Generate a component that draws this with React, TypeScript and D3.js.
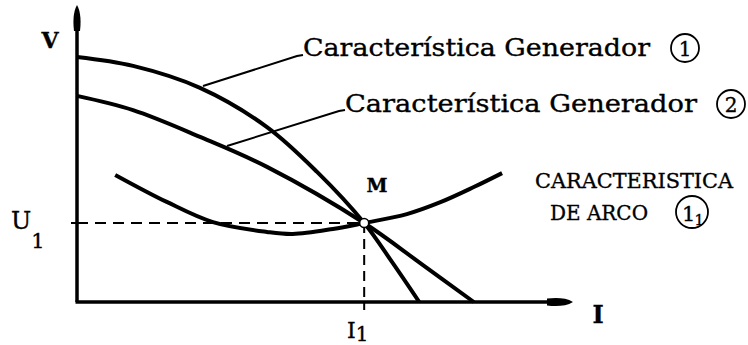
import React from "react";
import * as d3 from "d3";

// Operating point of the arc on the two generator characteristics (relative units)
const generator1: [number, number][] = [
  [0, 82.5], [11.3, 79.5], [24.8, 72.1], [38.3, 58.9], [48.4, 43.8],
  [57.9, 26.6], [63.5, 13.5], [69.0, 0],
];
const generator2: [number, number][] = [
  [0, 69.4], [11.3, 64.6], [24.8, 55.6], [38.3, 45.5], [57.9, 26.6],
  [69.2, 13.1], [80.0, 0],
];
const arcCurve: [number, number][] = [
  [7.7, 42.8], [18.1, 33.7], [27.4, 26.9], [38.3, 23.6], [43.5, 22.9],
  [51.6, 24.6], [57.9, 26.6], [66.5, 29.6], [73.4, 33.7], [80.0, 38.7],
  [85.7, 43.4],
];
const pointM: [number, number] = [57.9, 26.6];

const W = 748;
const H = 345;
const FONT = "'DejaVu Serif', 'Liberation Serif', serif";

export default function App() {
  const x = d3.scaleLinear().domain([0, 100]).range([77, 573]);
  const y = d3.scaleLinear().domain([0, 100]).range([302, 5]);

  const line = d3
    .line<[number, number]>()
    .x((d) => x(d[0]))
    .y((d) => y(d[1]))
    .curve(d3.curveCatmullRom.alpha(0.5));

  const x0 = x(0);
  const y0 = y(0);
  const yTop = y(100);
  const xEnd = x(100);
  const mx = x(pointM[0]);
  const my = y(pointM[1]);

  const yArrow = `M${x0},${yTop} C${x0 + 4},${yTop + 7} ${x0 + 4},${yTop + 17} ${x0 + 3},${yTop + 26} L${x0 - 3},${yTop + 26} C${x0 - 4},${yTop + 17} ${x0 - 4},${yTop + 7} ${x0},${yTop} Z`;
  const xArrow = `M${xEnd},${y0} C${xEnd - 7},${y0 - 4.5} ${xEnd - 17},${y0 - 4.5} ${xEnd - 26},${y0 - 3.5} L${xEnd - 26},${y0 + 3.5} C${xEnd - 17},${y0 + 4.5} ${xEnd - 7},${y0 + 4.5} ${xEnd},${y0} Z`;

  return (
    <svg
      width={W}
      height={H}
      viewBox={`0 0 ${W} ${H}`}
      style={{ position: "absolute", left: 0, top: 0, background: "#fff" }}
    >
      {/* axes */}
      <line x1={x0} y1={y0} x2={x0} y2={yTop + 20} stroke="#000" strokeWidth={3.5} />
      <path d={yArrow} fill="#000" />
      <line x1={x0 - 1.5} y1={y0} x2={xEnd - 20} y2={y0} stroke="#000" strokeWidth={3.5} />
      <path d={xArrow} fill="#000" />

      {/* guides to the operating point */}
      <line x1={x0} y1={my} x2={mx} y2={my} stroke="#000" strokeWidth={2} strokeDasharray="11,7" />
      <line x1={mx} y1={my} x2={mx} y2={y0} stroke="#000" strokeWidth={2} strokeDasharray="10,6" />
      <line x1={x0 - 6} y1={my} x2={x0} y2={my} stroke="#000" strokeWidth={2} />
      <line x1={mx} y1={y0} x2={mx} y2={y0 + 8} stroke="#000" strokeWidth={2} />

      {/* characteristics */}
      <path d={line(generator1) ?? ""} fill="none" stroke="#000" strokeWidth={4} />
      <path d={line(generator2) ?? ""} fill="none" stroke="#000" strokeWidth={4} />
      <path d={line(arcCurve) ?? ""} fill="none" stroke="#000" strokeWidth={4} />
      <circle cx={mx} cy={my} r={4.5} fill="#fff" stroke="#000" strokeWidth={1.5} />

      {/* leader lines */}
      <polyline points="203,86 297,56 303,55" fill="none" stroke="#000" strokeWidth={2} />
      <polyline points="227,146 339,111 345,110" fill="none" stroke="#000" strokeWidth={2} />

      <g fontFamily={FONT} fill="#000" stroke="#000" strokeWidth={0.35}>
        <text x={303} y={56} fontSize={24} textLength={347} lengthAdjust="spacingAndGlyphs">
          Característica Generador
        </text>
        <circle cx={685} cy={48} r={14} fill="none" stroke="#000" strokeWidth={1.8} />
        <text x={685} y={55.5} fontSize={20} textAnchor="middle">1</text>

        <text x={345} y={112} fontSize={24} textLength={352} lengthAdjust="spacingAndGlyphs">
          Característica Generador
        </text>
        <circle cx={731} cy={104} r={14} fill="none" stroke="#000" strokeWidth={1.8} />
        <text x={731} y={111.5} fontSize={20} textAnchor="middle">2</text>

        <text x={535} y={188} fontSize={21} textLength={198} lengthAdjust="spacingAndGlyphs">
          CARACTERISTICA
        </text>
        <text x={550} y={220} fontSize={21} textLength={98} lengthAdjust="spacingAndGlyphs">
          DE ARCO
        </text>
        <circle cx={692} cy={212} r={16} fill="none" stroke="#000" strokeWidth={1.8} />
        <text x={682} y={221} fontSize={21}>
          1<tspan dx={-1} dy={4} fontSize={15}>1</tspan>
        </text>

        <text x={50} y={48} fontSize={22} fontWeight="bold" textAnchor="middle">V</text>
        <text x={377} y={192} fontSize={19} fontWeight="bold" textAnchor="middle">M</text>
        <text x={598} y={323} fontSize={24} fontWeight="bold" textAnchor="middle">I</text>

        <text x={11} y={229} fontSize={24}>
          U<tspan dx={0} dy={19} fontSize={21}>1</tspan>
        </text>

        <text x={347} y={338} fontSize={22}>
          I<tspan dx={0} dy={3} fontSize={20}>1</tspan>
        </text>
      </g>
    </svg>
  );
}
